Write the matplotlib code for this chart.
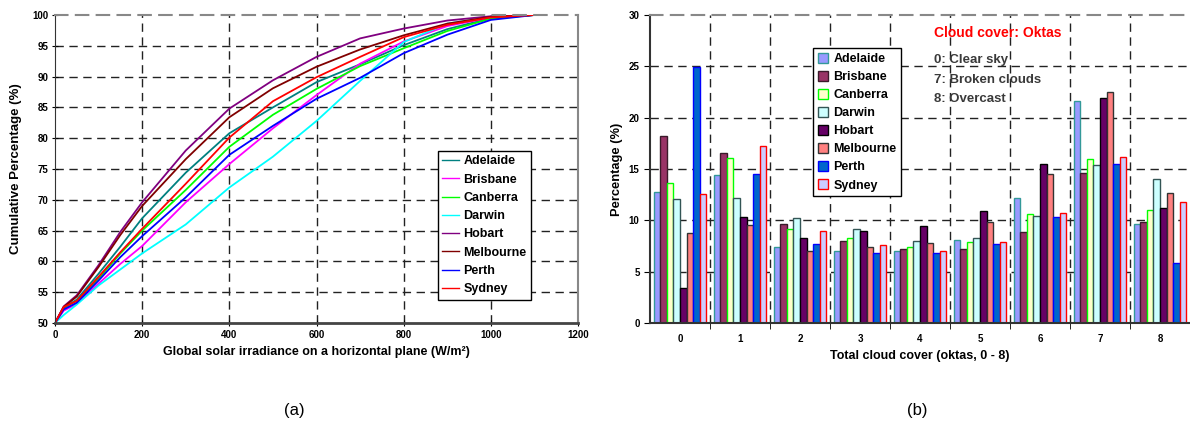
import matplotlib
matplotlib.use("Agg")
import matplotlib.pyplot as plt
import numpy as np

plt.rcParams['font.family'] = ['Liberation Sans', 'DejaVu Sans']
plt.rcParams['font.weight'] = 'bold'

cities = ['Adelaide', 'Brisbane', 'Canberra', 'Darwin', 'Hobart', 'Melbourne', 'Perth', 'Sydney']

# (a) cumulative distribution of global irradiance
irr = [0, 20, 50, 100, 150, 200, 300, 400, 500, 600, 700, 800, 900, 1000, 1100]
cum_adelaide = [50, 52.4, 53.8, 58.0, 62.4, 67.0, 74.4, 80.8, 85.0, 89.1, 92.0, 95.1, 97.7, 99.5, 100]
cum_brisbane = [50, 52.0, 53.1, 56.4, 59.6, 62.5, 69.6, 75.8, 81.6, 87.0, 92.1, 95.7, 98.2, 99.6, 100]
cum_canberra = [50, 52.5, 53.6, 57.2, 61.3, 65.0, 71.6, 78.6, 83.8, 88.0, 91.7, 94.6, 97.4, 99.4, 100]
cum_darwin = [50, 51.3, 53.0, 56.1, 58.7, 61.3, 66.0, 72.0, 77.0, 82.8, 89.3, 95.6, 98.6, 99.7, 100]
cum_hobart = [50, 52.7, 54.5, 59.4, 64.8, 69.6, 78.0, 84.8, 89.4, 93.2, 96.2, 97.8, 99.1, 99.8, 100]
cum_melbourne = [50, 52.6, 54.3, 59.1, 64.3, 69.0, 76.6, 83.4, 88.1, 91.6, 94.4, 96.7, 98.6, 99.7, 100]
cum_perth = [50, 52.2, 53.3, 56.9, 60.7, 64.1, 70.4, 77.3, 82.0, 86.4, 89.8, 93.8, 96.8, 99.2, 100]
cum_sydney = [50, 52.6, 53.6, 57.5, 61.5, 65.3, 72.6, 80.1, 86.0, 89.9, 93.2, 96.4, 98.4, 99.6, 100]
cum_all = [cum_adelaide, cum_brisbane, cum_canberra, cum_darwin,
           cum_hobart, cum_melbourne, cum_perth, cum_sydney]
line_colors = ['#008080', '#FF00FF', '#00FF00', '#00FFFF', '#800080', '#800000', '#0000FF', '#FF0000']

# (b) cloud cover frequency (%), oktas 0..8
oktas = [0, 1, 2, 3, 4, 5, 6, 7, 8]
pct_adelaide = [12.8, 14.4, 7.4, 7.0, 7.0, 8.1, 12.2, 21.6, 9.6]
pct_brisbane = [18.2, 16.6, 9.6, 8.0, 7.2, 7.2, 8.9, 14.6, 9.8]
pct_canberra = [13.6, 16.1, 9.2, 8.3, 7.4, 7.9, 10.6, 16.0, 11.0]
pct_darwin = [12.1, 12.2, 10.2, 9.2, 8.0, 8.3, 10.4, 15.4, 14.0]
pct_hobart = [3.4, 10.3, 8.3, 9.0, 9.4, 10.9, 15.5, 21.9, 11.2]
pct_melbourne = [8.8, 9.5, 7.0, 7.4, 7.8, 9.8, 14.5, 22.5, 12.7]
pct_perth = [24.9, 14.5, 7.7, 6.8, 6.8, 7.7, 10.3, 15.5, 5.8]
pct_sydney = [12.6, 17.2, 9.0, 7.6, 7.0, 7.9, 10.7, 16.2, 11.8]
pct_all = [pct_adelaide, pct_brisbane, pct_canberra, pct_darwin,
           pct_hobart, pct_melbourne, pct_perth, pct_sydney]
bar_fill = ['#9999FF', '#993366', '#FFFFCC', '#CCFFFF', '#660066', '#FF8080', '#0066CC', '#CCCCFF']
bar_edge = ['#339999', '#3a1a2a', '#00FF00', '#335555', '#000000', '#333333', '#0000FF', '#FF0000']

fig = plt.figure(figsize=(11.9, 4.28), dpi=100)
W, H = 1190.0, 428.0

grid_kw = dict(color='#222222', linestyle=(0, (6, 4)), linewidth=1.0)

# ---------------- left chart ----------------
ax1 = fig.add_axes([55 / W, 1 - 323 / H, 523 / W, 308 / H])
for c, y, col in zip(cities, cum_all, line_colors):
    ax1.plot(irr, y, color=col, lw=1.3, label=c)
ax1.set_xlim(0, 1200)
ax1.set_ylim(50, 100)
ax1.set_xticks(range(0, 1201, 200))
ax1.set_yticks(range(50, 101, 5))
for v in range(200, 1001, 200):
    ax1.axvline(v, zorder=0, **grid_kw)
for v in range(55, 100, 5):
    ax1.axhline(v, zorder=0, **grid_kw)
ax1.spines['left'].set_color('#333333')
ax1.spines['bottom'].set_color('#444444')
ax1.spines['bottom'].set_linewidth(2)
ax1.spines['top'].set_color('#888888')
ax1.spines['top'].set_linestyle((0, (6, 4)))
ax1.spines['top'].set_linewidth(1.5)
ax1.spines['right'].set_color('#888888')
ax1.spines['right'].set_linewidth(1.5)
ax1.tick_params(direction='inout', length=4, labelsize=7, pad=3)
ax1.set_xlabel('Global solar irradiance on a horizontal plane (W/m²)', fontsize=9, fontweight='bold', labelpad=4)
ax1.set_ylabel('Cumulative Percentage (%)', fontsize=9.5, fontweight='bold', labelpad=7)
leg1 = ax1.legend(loc='upper left', bbox_to_anchor=(383 / 523, (323 - 151) / 308), fontsize=9,
                  frameon=True, fancybox=False, edgecolor='black', framealpha=1, borderaxespad=0,
                  handlelength=1.3, handletextpad=0.4, labelspacing=0.5, borderpad=0.35)
leg1.get_frame().set_linewidth(1.0)
for h in leg1.get_lines():
    h.set_linewidth(1.0)
fig.text(294 / W, 1 - 410 / H, '(a)', fontsize=12, fontweight='normal', ha='center', va='center')

# ---------------- right chart ----------------
ax2 = fig.add_axes([650 / W, 1 - 323 / H, 540 / W, 308 / H])
x = np.arange(len(oktas))
bw = 0.867 / len(cities)
for i, (c, vals) in enumerate(zip(cities, pct_all)):
    ax2.bar(x - 0.4335 + bw * (i + 0.5), vals, width=bw, color=bar_fill[i],
            edgecolor=bar_edge[i], linewidth=1.0, label=c, zorder=2)
ax2.set_xlim(-0.5, 8.5)
ax2.set_ylim(0, 30)
ax2.set_xticks(x)
ax2.set_xticklabels([str(o) for o in oktas])
ax2.set_xticks(x[:-1] + 0.5, minor=True)
ax2.set_yticks(range(0, 31, 5))
for v in x[:-1] + 0.5:
    ax2.axvline(v, zorder=0, **grid_kw)
for v in range(5, 30, 5):
    ax2.axhline(v, zorder=0, **grid_kw)
ax2.tick_params(axis='x', which='major', length=0, labelsize=7, pad=8)
ax2.tick_params(axis='x', which='minor', length=4, direction='out')
ax2.tick_params(axis='y', length=4, direction='out', labelsize=7)
ax2.spines['left'].set_color('#333333')
ax2.spines['left'].set_linewidth(1.5)
ax2.spines['bottom'].set_color('#333333')
ax2.spines['bottom'].set_linewidth(1.5)
ax2.spines['top'].set_color('#888888')
ax2.spines['top'].set_linestyle((0, (6, 4)))
ax2.spines['top'].set_linewidth(1.5)
ax2.spines['right'].set_visible(False)
ax2.set_xlabel('Total cloud cover (oktas, 0 - 8)', fontsize=9, fontweight='bold', labelpad=4)
ax2.set_ylabel('Percentage (%)', fontsize=9.3, fontweight='bold', labelpad=4)
leg2 = ax2.legend(loc='upper left', bbox_to_anchor=((813 - 650) / 540, (323 - 48) / 308), fontsize=9,
                  frameon=True, fancybox=False, edgecolor='black', framealpha=1, borderaxespad=0,
                  handlelength=0.85, handleheight=0.85, handletextpad=0.4, labelspacing=0.46, borderpad=0.38)
leg2.get_frame().set_linewidth(1.0)
ax2.text((934 - 650) / 540, (323 - 33) / 308, 'Cloud cover: Oktas', color='#FF0000', fontsize=10,
         fontweight='bold', transform=ax2.transAxes, va='center', ha='left')
for yy, t in [(60, '0: Clear sky'), (80, '7: Broken clouds'), (99, '8: Overcast')]:
    ax2.text((934 - 650) / 540, (323 - yy) / 308, t, color='#3a3a3a', fontsize=9.5,
             fontweight='bold', transform=ax2.transAxes, va='center', ha='left')
fig.text(917 / W, 1 - 410 / H, '(b)', fontsize=12, fontweight='normal', ha='center', va='center')

fig.savefig('out.png', dpi=100)
